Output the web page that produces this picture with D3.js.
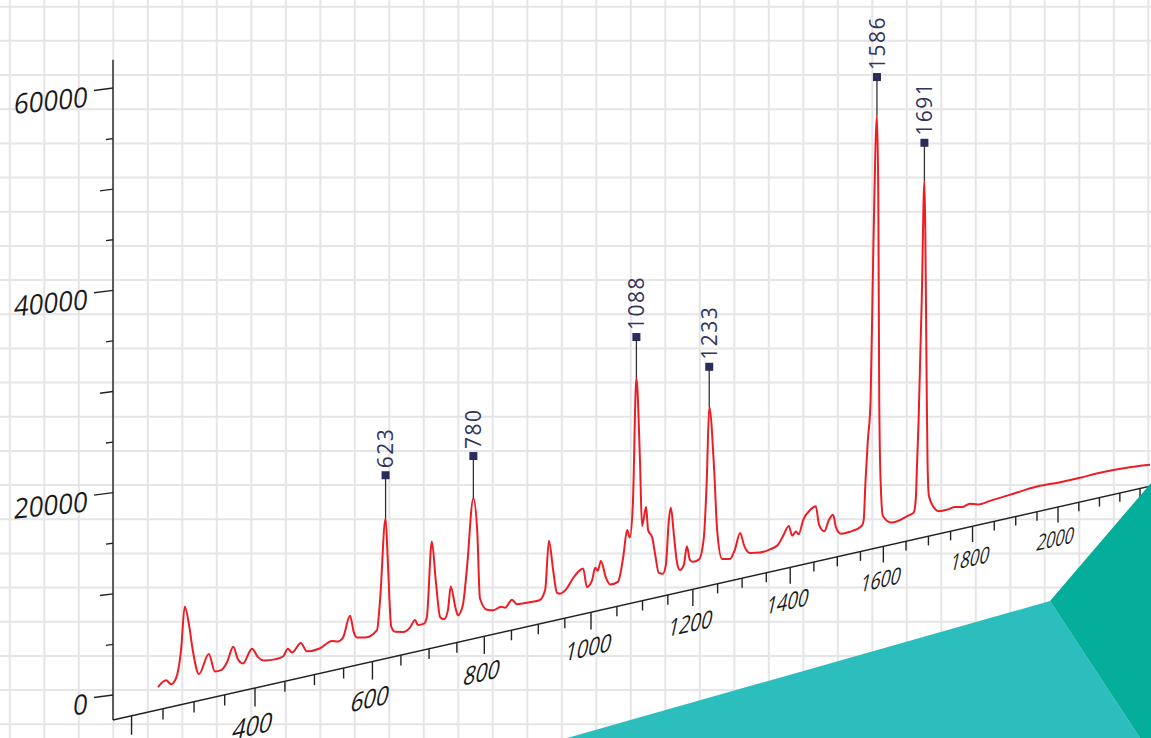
<!DOCTYPE html>
<html>
<meta charset="utf-8">
<script src="https://d3js.org/d3.v7.min.js"></script>
<style>
  body { margin: 0; background: #fff; }
  svg { display: block; font-family: "Open Sans", sans-serif; }
</style>
<body>
<div id="spectrum"></div>
<script>
// spectrum: wavenumber (cm-1) and intensity (counts)
var wavenumber = [
  242, 255, 263, 271, 279, 285, 292, 298, 308, 324,
  334, 344, 354, 364, 372, 380, 395, 405, 412, 417,
  433, 447, 455, 462, 477, 487, 509, 530, 540, 549,
  561, 568, 573, 587, 608, 613, 623, 627, 633, 640,
  654, 666, 675, 680, 691, 696, 705, 712, 720, 727,
  734, 739, 747, 752, 761, 768, 780, 787, 792, 805,
  816, 831, 838, 851, 860, 884, 903, 913, 920, 928,
  935, 941, 952, 966, 979, 985, 992, 1002, 1008, 1013,
  1019, 1029, 1037, 1052, 1062, 1070, 1075, 1081, 1088, 1095,
  1099, 1107, 1111, 1119, 1125, 1132, 1140, 1146, 1152, 1156,
  1162, 1168, 1174, 1182, 1188, 1194, 1200, 1212, 1222, 1228,
  1233, 1243, 1249, 1259, 1275, 1285, 1296, 1304, 1316, 1337,
  1358, 1374, 1385, 1397, 1404, 1412, 1418, 1427, 1442, 1454,
  1461, 1472, 1482, 1491, 1497, 1508, 1527, 1553, 1557, 1561,
  1566, 1572, 1578, 1586, 1589, 1591, 1594, 1599, 1618, 1656,
  1667, 1672, 1674, 1678, 1685, 1691, 1693, 1696, 1698, 1701,
  1712, 1724, 1746, 1760, 1776, 1794, 1812, 1840, 1886, 1922,
  1957, 2005, 2053, 2101, 2163, 2225];
var intensity = [
  -200, 300, -200, 300, 3000, 7300, 5300, 2700, 200, 2000,
  100, 100, 800, 2200, 800, 300, 1600, 600, 200, 100,
  0, 100, 800, 300, 1100, 100, 100, 600, 400, 700,
  2800, 900, 400, 200, 700, 3500, 12200, 7500, 700, 100,
  -100, 200, 900, 300, 300, 900, 8800, 4600, 600, 300,
  1200, 3600, 1400, 400, 1400, 5000, 12500, 9000, 1700, 300,
  100, 300, 100, 800, 200, 100, 100, 1100, 6300, 3000,
  500, 300, 600, 1700, 2400, 2500, 400, 1000, 2300, 1900,
  2900, 900, 100, 200, 2700, 5700, 4800, 8300, 22300, 13100,
  5800, 7800, 5200, 4300, 2300, 200, 0, 900, 5800, 7200,
  4100, 1000, 0, 500, 2500, 900, 600, 700, 3000, 9400,
  17600, 10400, 3600, 200, 0, 900, 2700, 1200, 200, 0,
  100, 400, 1300, 2300, 1100, 1500, 1100, 2600, 3600, 3900,
  1700, 800, 2000, 2500, 1000, 100, 100, 500, 1100, 5600,
  10200, 14800, 32300, 48000, 38000, 14600, 5200, 1100, 100, 500,
  700, 2400, 5500, 11400, 25500, 39600, 33700, 15900, 6400, 2300,
  800, 200, 200, 300, 100, 300, 0, 100, 300, 500,
  600, 500, 500, 600, 500, 200];

// labelled peaks
var peakWavenumber = [623, 780, 1088, 1233, 1586, 1691];
var peakIntensity = [12200, 12500, 22300, 17600, 48000, 39600];

// tick labels
var yTickLabels = [0, 20000, 40000, 60000];
var xTickLabels = [400, 600, 800, 1000, 1200, 1400, 1600, 1800, 2000, 2200];

var W = 1151, H = 738;
var svg = d3.select("#spectrum").append("svg")
    .attr("width", W)
    .attr("height", H);

//background grid
var grid = svg.append("g").attr("stroke", "#e5e5e8").attr("stroke-width", 2);
grid.selectAll(".gv").data(d3.range(9.8, W, 34.5)).enter().append("line")
    .attr("class", "gv")
    .attr("x1", function(d) { return d; }).attr("x2", function(d) { return d; })
    .attr("y1", 0).attr("y2", H);
grid.selectAll(".gh").data(d3.range(6.7, H, 34.17)).enter().append("line")
    .attr("class", "gh")
    .attr("y1", function(d) { return d; }).attr("y2", function(d) { return d; })
    .attr("x1", 0).attr("x2", W);

// perspective set-up: the x axis runs away from the viewer
var origin = {x: 113, y: 720},   // foot of the y axis
    slope = 0.2254,              // rise of the x axis on screen
    depth = 4977,                // distance to the eye, in flat px
    xStart = 170.8, yTop = 62800;

var x = d3.scaleLinear().domain([xStart, 2400]).range([0, 1421.6]);   // flat px along the axis
var y = d3.scaleLinear().domain([0, 60000]).range([25, 632]);         // flat px above the axis line

function persp(t) { return 1 + x(t) / depth; }
function ground(t) {
    var s = x(t) / persp(t);
    return [origin.x + s, origin.y - slope * s];
}
function proj(t, v) {
    var g = ground(t);
    return [g[0], g[1] - y(v) / persp(t)];
}

// x axis
var xAxis = svg.append("g").attr("stroke", "#222").attr("stroke-width", 1.4);
xAxis.append("line")
    .attr("x1", ground(xStart)[0]).attr("y1", ground(xStart)[1])
    .attr("x2", ground(2400)[0]).attr("y2", ground(2400)[1]);
xAxis.selectAll(".xt").data(d3.range(200, 2401, 50)).enter().append("line")
    .attr("class", "xt")
    .attr("x1", function(d) { return ground(d)[0]; })
    .attr("y1", function(d) { return ground(d)[1]; })
    .attr("x2", function(d) { return ground(d)[0]; })
    .attr("y2", function(d) { return ground(d)[1] + (d % 200 ? 11 : 19) / persp(d); });

// labels lie on the floor, so they shrink and lean with the axis
svg.append("g").selectAll("text").data(xTickLabels).enter().append("text")
    .attr("transform", function(d) {
        var p = persp(d), g = ground(d), sx = 0.88 / (p * p);
        return "matrix(" + [sx, -slope * sx, -0.22 / p, 1 / p, g[0] - 2, g[1] + 38 / p].join(",") + ")";
    })
    .attr("text-anchor", "middle")
    .attr("dominant-baseline", "central")
    .attr("font-size", 28)
    .attr("fill", "#1a1a1a")
    .text(function(d) { return d; });

// y axis
var yAxis = svg.append("g").attr("stroke", "#222").attr("stroke-width", 1.4);
yAxis.append("line")
    .attr("x1", origin.x).attr("x2", origin.x)
    .attr("y1", origin.y).attr("y2", origin.y - y(yTop));
function yTickLen(d) { return d % 20000 === 0 ? 19 : (d % 10000 === 0 ? 13 : 7); }
yAxis.selectAll(".yt").data(d3.range(0, 60001, 5000)).enter().append("line")
    .attr("class", "yt")
    .attr("x1", origin.x).attr("y1", function(d) { return origin.y - y(d); })
    .attr("x2", function(d) { return origin.x - yTickLen(d); })
    .attr("y2", function(d) { return origin.y - y(d) + 0.13 * yTickLen(d); });

svg.append("g").selectAll("text").data(yTickLabels).enter().append("text")
    .attr("transform", function(d) {
        return "matrix(0.92,-0.09,-0.1,1," + 88 + "," + (origin.y - y(d) + 8) + ")";
    })
    .attr("text-anchor", "end")
    .attr("dominant-baseline", "central")
    .attr("font-size", 28)
    .attr("fill", "#1a1a1a")
    .text(function(d) { return d; });

// spectrum
var line = d3.line()
    .x(function(d) { return proj(d[0], d[1])[0]; })
    .y(function(d) { return proj(d[0], d[1])[1]; })
    .curve(d3.curveMonotoneX);
svg.append("path")
    .datum(d3.zip(wavenumber, intensity))
    .attr("d", line)
    .attr("fill", "none")
    .attr("stroke", "#ee1d24")
    .attr("stroke-width", 2)
    .attr("stroke-linejoin", "round");

// peak pins
var pinLift = 4500;
var peaks = d3.zip(peakWavenumber, peakIntensity);
var pins = svg.append("g").selectAll("g").data(peaks).enter().append("g");
pins.append("line")
    .attr("x1", function(d) { return proj(d[0], d[1])[0]; })
    .attr("y1", function(d) { return proj(d[0], d[1])[1]; })
    .attr("x2", function(d) { return proj(d[0], d[1] + pinLift)[0]; })
    .attr("y2", function(d) { return proj(d[0], d[1] + pinLift)[1]; })
    .attr("stroke", "#333")
    .attr("stroke-width", 1.3);
pins.append("rect")
    .attr("x", function(d) { return proj(d[0], d[1] + pinLift)[0] - 4; })
    .attr("y", function(d) { return proj(d[0], d[1] + pinLift)[1] - 4; })
    .attr("width", 8).attr("height", 8)
    .attr("fill", "#2b2c5a");
pins.append("text")
    .attr("transform", function(d) {
        var m = proj(d[0], d[1] + pinLift);
        return "translate(" + m[0] + "," + (m[1] - 7) + ") rotate(-90)";
    })
    .attr("dy", "0.36em")
    .attr("font-size", 21)
    .attr("letter-spacing", 1.5)
    .attr("fill", "#33345e")
    .text(function(d) { return d[0]; });

// teal corner decoration
svg.append("polygon")
    .attr("points", "567,738 1050,601 1140,738")
    .attr("fill", "#2bbebc");
svg.append("polygon")
    .attr("points", "1050,601 1151,483 1151,738 1140,738")
    .attr("fill", "#04ae9a");
</script>
</body>
</html>
